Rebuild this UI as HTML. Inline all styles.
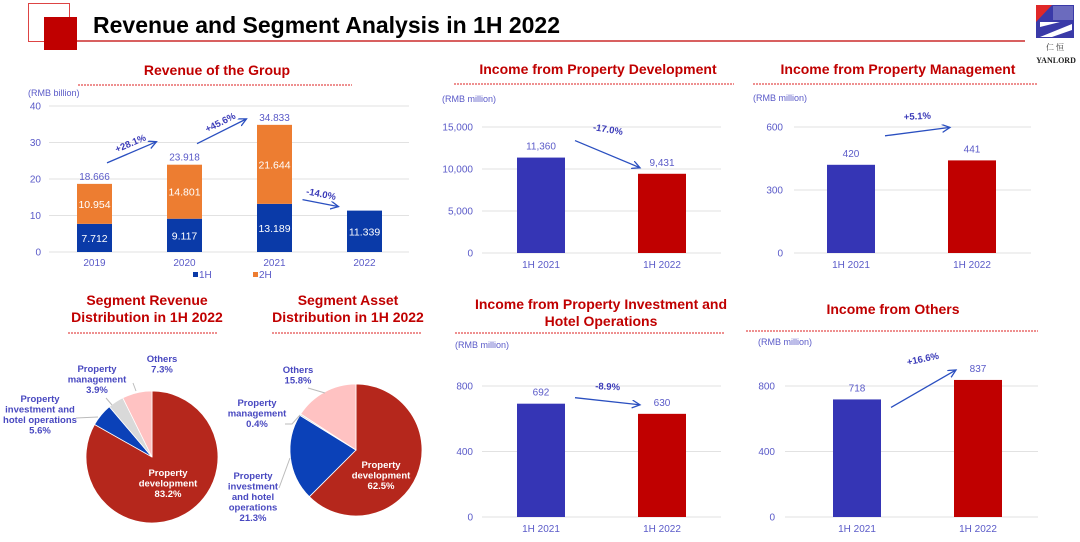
<!DOCTYPE html>
<html><head><meta charset="utf-8">
<style>
html,body{margin:0;padding:0;background:#fff;width:1080px;height:542px;overflow:hidden}
svg{display:block;font-family:"Liberation Sans","Noto Sans CJK SC",sans-serif}
.tt{fill:#c00000;font-weight:bold;font-size:14px;text-anchor:middle}
.ax{fill:#5a5ac8;font-size:10px}
.unit{fill:#5a5ac8;font-size:9px}
.pl{fill:#4848c0;font-size:9.5px;font-weight:bold;text-anchor:middle}
.dash{stroke:#d22;stroke-width:1;stroke-dasharray:2,1}
.grid{stroke:#e2e2e2;stroke-width:1}
</style></head>
<body>
<svg id="s" width="1080" height="542" viewBox="0 0 1080 542">
<defs><marker id="ah" markerWidth="10" markerHeight="10" refX="8" refY="4" orient="auto" markerUnits="userSpaceOnUse"><path d="M0,0 L8,4 L0,8" fill="none" stroke="#2a4fc0" stroke-width="1.3"/></marker></defs>
<g>
<rect x="28.5" y="3.5" width="41" height="38" fill="none" stroke="#d44" stroke-width="1"/>
<rect x="44" y="17" width="33" height="33" fill="#c00000"/>
<line x1="69" y1="41" x2="1025" y2="41" stroke="#c00000" stroke-width="1.2"/>
<text x="93" y="33" font-size="23" font-weight="bold" fill="#000">Revenue and Segment Analysis in 1H 2022</text>
</g>
<g>
<rect x="1036" y="5" width="38" height="33" fill="#3a3aa8"/>
<polygon points="1036,5 1052,5 1036,22" fill="#e02828"/>
<rect x="1053" y="6" width="20" height="14" fill="#fff" opacity="0.25"/>
<polygon points="1040,37 1072,24 1072,30 1052,37" fill="#fff"/>
<polygon points="1040,27 1060,22 1040,22" fill="#fff"/>
<text x="1055" y="50" font-size="8" text-anchor="middle" fill="#333" font-family="Noto Serif CJK SC,serif">仁 恒</text>
<text x="1056" y="63" font-size="8" font-weight="bold" text-anchor="middle" fill="#222" font-family="Liberation Serif,serif">YANLORD</text>
</g>
<g id="rev"></g>
<g id="pies"></g>
<g id="small"></g>
</svg>
<script>
const NS='http://www.w3.org/2000/svg';
function mk(p,tag,at,txt){const e=document.createElementNS(NS,tag);for(const k in at)e.setAttribute(k,at[k]);if(txt!==undefined)e.textContent=txt;p.appendChild(e);return e;}

// ---- Revenue of the Group ----
const revYears=['2019','2020','2021','2022'];
const rev1H=[7.712,9.117,13.189,11.339];
const rev2H=[10.954,14.801,21.644,null];
const revTotals=['18.666','23.918','34.833',''];
const revTicks=[0,10,20,30,40];
const revGrowth=['+28.1%','+45.6%','-14.0%'];

(function(){
 const g=document.getElementById('rev');
 const y=v=>252-v*(146/40), xc=i=>94.5+i*90, bw=35;
 let t=mk(g,'text',{x:217,y:75,class:'tt'},'Revenue of the Group');
 
 let d=mk(g,'line',{x1:78,y1:85,x2:352,y2:85,class:'dash'});
 
 let u=mk(g,'text',{x:28,y:96,class:'unit'},'(RMB billion)');
 
 revTicks.forEach(v=>{
  let l=mk(g,'line',{x1:49,x2:409,y1:y(v),y2:y(v),class:'grid'});
  
  let tx=mk(g,'text',{x:41,y:y(v)+3.5,class:'ax','text-anchor':'end'},v);
  
 });
 revYears.forEach((yr,i)=>{
  const x=xc(i)-bw/2;
  let b=mk(g,'rect',{x:x,y:y(rev1H[i]),width:bw,height:y(0)-y(rev1H[i]),fill:'#0a3aa8'});
  
  let bl=mk(g,'text',{x:xc(i),y:(y(rev1H[i])+y(0))/2+4,fill:'#fff','font-size':10.5,'text-anchor':'middle'},rev1H[i].toFixed(3));
  
  let top=rev1H[i];
  if(rev2H[i]!==null){
   let b2=mk(g,'rect',{x:x,y:y(rev1H[i]+rev2H[i]),width:bw,height:y(rev1H[i])-y(rev1H[i]+rev2H[i]),fill:'#ed7d31'});
   
   let l2=mk(g,'text',{x:xc(i),y:(y(rev1H[i])+y(rev1H[i]+rev2H[i]))/2+4,fill:'#fff','font-size':10.5,'text-anchor':'middle'},rev2H[i].toFixed(3));
   
   top+=rev2H[i];
  }
  if(revTotals[i]){
   let tl=mk(g,'text',{x:xc(i),y:y(top)-4,class:'ax','text-anchor':'middle','font-size':10.5},revTotals[i]);
   
  }
  let xl=mk(g,'text',{x:xc(i),y:266,class:'ax','text-anchor':'middle'},yr);
  
 });
 const tops=revYears.map((_,i)=>rev1H[i]+(rev2H[i]||0));
 for(let i=0;i<3;i++){
  let x1,y1,x2,y2;
  if(i<2){x1=xc(i)+12.5;y1=y(tops[i])-21;x2=xc(i+1)-28;y2=y(tops[i+1])-(i==0?23:6);}
  else{x1=xc(i)+28;y1=y(tops[3])-11;x2=xc(i+1)-26;y2=y(tops[3])-4;}
  let a=mk(g,'line',{x1:x1,y1:y1,x2:x2,y2:y2,stroke:'#2a4fc0','stroke-width':1.3,'marker-end':'url(#ah)'});
  
  const ang=Math.atan2(y2-y1,x2-x1)*180/Math.PI, mx=(x1+x2)/2, my=(y1+y2)/2-6;
  let gt=mk(g,'text',{x:mx,y:my,fill:'#3a3ab8','font-size':9.5,'font-weight':'bold','text-anchor':'middle',transform:`rotate(${ang} ${mx} ${my})`},revGrowth[i]);
  
 }
 [['1H','#0a3aa8',193],['2H','#ed7d31',253]].forEach(([n,c,x])=>{
  let s=mk(g,'rect',{x:x,y:272,width:5,height:5,fill:c});
  
  let lt=mk(g,'text',{x:x+6,y:278,class:'ax','font-size':9},n);
  
 });
})();

// ---- Pies ----
const pieSegments=['Property development','Property investment and hotel operations','Property management','Others'];
const pieRevenueShare=[83.2,5.6,3.9,7.3];
const pieAssetShare=[62.5,21.3,0.4,15.8];
const pieColors=['#b5271c','#0b41b8','#d9d9d9','#ffc2c2'];

(function(){
 const g=document.getElementById('pies');
 function pie(cx,cy,r,vals,name){
  const tot=vals.reduce((a,b)=>a+b,0);let a0=-Math.PI/2;
  vals.forEach((v,i)=>{
   const a1=a0+v/tot*2*Math.PI, large=(a1-a0)>Math.PI?1:0;
   const p=`M${cx},${cy} L${cx+r*Math.cos(a0)},${cy+r*Math.sin(a0)} A${r},${r} 0 ${large} 1 ${cx+r*Math.cos(a1)},${cy+r*Math.sin(a1)} Z`;
   let s=mk(g,'path',{d:p,fill:pieColors[i],stroke:'#fff','stroke-width':0.8});
   
   a0=a1;
  });
 }
 function title(x,l1,l2,nm){
  let t=mk(g,'text',{x:x,y:305,class:'tt'},l1);
  let t2=mk(g,'text',{x:x,y:322,class:'tt'},l2);
 }
 function lab(x,ys,lines,fill,nm){
  lines.forEach((s,k)=>{let t=mk(g,'text',{x:x,y:ys+k*10.5,class:'pl'},s);
   if(fill)t.style.fill=fill;
   });
 }
 function lead(pts,nm){let l=mk(g,'polyline',{points:pts,fill:'none',stroke:'#bbb','stroke-width':1});}
 title(147,'Segment Revenue','Distribution in 1H 2022','segment-revenue');
 title(348,'Segment Asset','Distribution in 1H 2022','segment-asset');
 let d1=mk(g,'line',{x1:68,y1:333,x2:218,y2:333,class:'dash'});
 let d2=mk(g,'line',{x1:272,y1:333,x2:422,y2:333,class:'dash'});
 pie(152,457,66,pieRevenueShare,'revenue-pie');
 pie(356,450,66,pieAssetShare,'asset-pie');
 lead('76,418 98,417','leader-line');lead('106,398 112,405','leader-line');lead('133,383 136,391','leader-line');
 lead('308,388 325,393','leader-line');lead('285,424 292,424 300,415','leader-line');lead('279,488 290,458','leader-line');
 lab(162,362,['Others',pieRevenueShare[3]+'%'],null,'pie-label-others');
 lab(97,372,['Property','management',pieRevenueShare[2]+'%'],null,'pie-label-property-management');
 lab(40,402,['Property','investment and','hotel operations',pieRevenueShare[1]+'%'],null,'pie-label-property-investment');
 lab(168,476,['Property','development',pieRevenueShare[0]+'%'],'#fff','pie-label-property-development');
 lab(298,373,['Others',pieAssetShare[3]+'%'],null,'asset-label-others');
 lab(257,406,['Property','management',pieAssetShare[2]+'%'],null,'asset-label-property-management');
 lab(253,479,['Property','investment','and hotel','operations',pieAssetShare[1]+'%'],null,'asset-label-property-investment');
 lab(381,468,['Property','development',pieAssetShare[0]+'%'],'#fff','asset-label-property-development');
})();

// ---- Small income charts ----
const incomeCats=['1H 2021','1H 2022'];
const devValues=[11360,9431];
const mgmtValues=[420,441];
const invValues=[692,630];
const othValues=[718,837];
const devTicks=[0,5000,10000,15000];
const mgmtTicks=[0,300,600];
const invTicks=[0,400,800];
const othTicks=[0,400,800];
const devChange='-17.0%', mgmtChange='+5.1%', invChange='-8.9%', othChange='+16.6%';

(function(){
 const g=document.getElementById('small');
 function chart(o){
  const gg=mk(g,'g',{});
  o.title.forEach((s,k)=>{let t=mk(gg,'text',{x:o.tx,y:o.ty+k*17,class:'tt'},s);});
  let d=mk(gg,'line',{x1:o.dx1,x2:o.dx2,y1:o.dy,y2:o.dy,class:'dash'});
  let u=mk(gg,'text',{x:o.ux,y:o.uy,class:'unit'},'(RMB million)');
  const y=v=>o.y0-(v/o.max)*(o.y0-o.ytop);
  o.ticks.forEach(v=>{
   let l=mk(gg,'line',{x1:o.gx1,x2:o.gx2,y1:y(v),y2:y(v),class:'grid'});
   let t=mk(gg,'text',{x:o.lx,y:y(v)+3.5,class:'ax','text-anchor':'end'},v.toLocaleString('en-US'));
  });
  const cols=['#3535b5','#c00000'];
  o.vals.forEach((v,i)=>{
   const cx=o.bx[i];
   let b=mk(gg,'rect',{x:cx-24,y:y(v),width:48,height:o.y0-y(v),fill:cols[i]});
   let vl=mk(gg,'text',{x:cx,y:y(v)-8,class:'ax','text-anchor':'middle','font-size':10.5},v.toLocaleString('en-US'));
   let xl=mk(gg,'text',{x:cx,y:o.y0+15,class:'ax','text-anchor':'middle','font-size':9.5},incomeCats[i]);
  });
  const x1=o.bx[0]+34,x2=o.bx[1]-22, y1=y(o.vals[0])+o.ao[0], y2=y(o.vals[1])+o.ao[1];
  let a=mk(gg,'line',{x1:x1,y1:y1,x2:x2,y2:y2,stroke:'#2a4fc0','stroke-width':1.3,'marker-end':'url(#ah)'});
  const ang=Math.atan2(y2-y1,x2-x1)*180/Math.PI*0.4,mx=(x1+x2)/2,my=Math.min(y1,y2)-8;
  let ct=mk(gg,'text',{x:mx,y:my,fill:'#3a3ab8','font-size':9.5,'font-weight':'bold','text-anchor':'middle',transform:`rotate(${ang} ${mx} ${my})`},o.change);
 }
 chart({name:'property-development-chart',title:['Income from Property Development'],tx:598,ty:74,dx1:454,dx2:734,dy:84,ux:442,uy:102,gx1:482,gx2:721,lx:473,y0:253,ytop:127,max:15000,ticks:devTicks,vals:devValues,bx:[541,662],ao:[-17,-6],change:devChange});
 chart({name:'property-management-chart',title:['Income from Property Management'],tx:898,ty:74,dx1:753,dx2:1038,dy:84,ux:753,uy:101,gx1:794,gx2:1031,lx:783,y0:253,ytop:127,max:600,ticks:mgmtTicks,vals:mgmtValues,bx:[851,972],ao:[-29,-33],change:mgmtChange});
 chart({name:'property-investment-chart',title:['Income from Property Investment and','Hotel Operations'],tx:601,ty:309,dx1:455,dx2:725,dy:333,ux:455,uy:348,gx1:482,gx2:721,lx:473,y0:517,ytop:386,max:800,ticks:invTicks,vals:invValues,bx:[541,662],ao:[-6,-9],change:invChange});
 chart({name:'others-chart',title:['Income from Others'],tx:893,ty:314,dx1:746,dx2:1038,dy:331,ux:758,uy:345,gx1:785,gx2:1038,lx:775,y0:517,ytop:386,max:800,ticks:othTicks,vals:othValues,bx:[857,978],ao:[8,-10],change:othChange});
})();
</script>
</body></html>
